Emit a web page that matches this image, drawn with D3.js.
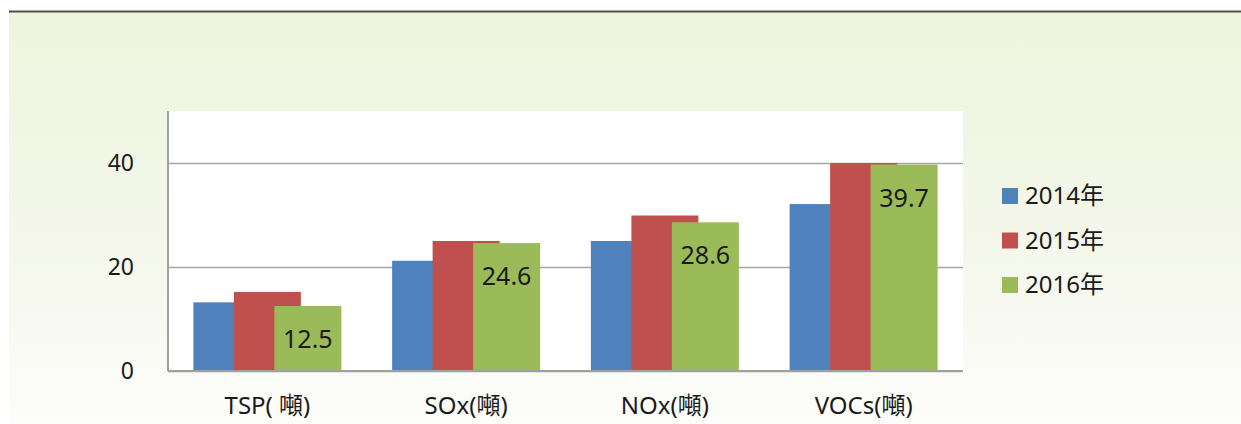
<html>
    <head>
        <meta charset="UTF-8">
        <title>Emissions chart</title>
        <script src="https://cdn.jsdelivr.net/npm/d3@7"></script>
        <style>
            body { margin: 0; background: #fff; }
            svg { display: block; }
            text { font-family: "Noto Sans", "Noto Sans CJK TC", sans-serif; fill: #1a1a1a; }
        </style>
    </head>
    <body>
        <div id="chart"></div>

        <script>
            // data
            var categories = ["TSP( 噸)", "SOx(噸)", "NOx(噸)", "VOCs(噸)"];
            var years = ["2014年", "2015年", "2016年"];
            var v2014 = [13.2, 21.2, 25.0, 32.1];
            var v2015 = [15.2, 25.0, 29.9, 40.0];
            var v2016 = [12.5, 24.6, 28.6, 39.7];
            var yTicks = [0, 20, 40];
            var colors = ["#4f81bd", "#c0504d", "#9bbb59"];

            var series = [v2014, v2015, v2016];

            var W = 1241, H = 424;
            var plot = {left: 168, right: 963, top: 111, bottom: 371};

            var svg = d3.select("#chart").append("svg")
                    .attr("width", W)
                    .attr("height", H);

            //-----------------------------------------
            // background panel
            var grad = svg.append("defs").append("linearGradient")
                    .attr("id", "bg")
                    .attr("x1", 0).attr("y1", 0).attr("x2", 0).attr("y2", 1);
            grad.append("stop").attr("offset", "0%").attr("stop-color", "#eef4dd");
            grad.append("stop").attr("offset", "55%").attr("stop-color", "#f4f7ea");
            grad.append("stop").attr("offset", "100%").attr("stop-color", "#fdfdfb");

            svg.append("rect")
                    .attr("x", 9).attr("y", 12)
                    .attr("width", W - 9).attr("height", H - 12)
                    .attr("fill", "url(#bg)");
            svg.append("line")
                    .attr("x1", 9).attr("x2", W)
                    .attr("y1", 11.5).attr("y2", 11.5)
                    .attr("stroke", "#4a5049")
                    .attr("stroke-width", 2);

            // plot area
            svg.append("rect")
                    .attr("x", plot.left).attr("y", plot.top)
                    .attr("width", plot.right - plot.left)
                    .attr("height", plot.bottom - plot.top)
                    .attr("fill", "#fff");

            //-----------------------------------------
            var x = d3.scaleBand().domain(categories).range([plot.left, plot.right]);
            var y = d3.scaleLinear().domain([0, 50]).range([plot.bottom, plot.top]);
            // bars overlap inside a group
            var barW = 67;
            var offset = d3.scaleLinear().domain([0, 2]).range([-74, 7]);

            // gridlines + tick labels
            var yAxis = svg.append("g")
                    .attr("transform", "translate(" + plot.left + ",0)")
                    .call(d3.axisLeft(y)
                            .tickValues(yTicks)
                            .tickSizeInner(-(plot.right - plot.left))
                            .tickSizeOuter(0)
                            .tickPadding(34));
            yAxis.select(".domain").remove();
            yAxis.selectAll("line").attr("stroke", "#a6a6a6").attr("stroke-width", 1.6);
            yAxis.selectAll("text")
                    .style("font-size", "23px")
                    .attr("fill", "#1a1a1a");

            // bars
            series.forEach(function (vals, s) {
                svg.append("g").selectAll("rect")
                        .data(vals)
                        .enter()
                        .append("rect")
                        .attr("x", function (d, i) {
                            return x(categories[i]) + x.bandwidth() / 2 + offset(s);
                        })
                        .attr("y", function (d) { return y(d); })
                        .attr("width", barW)
                        .attr("height", function (d) { return y(0) - y(d); })
                        .attr("fill", colors[s]);
            });

            // labels on the 2016 bars
            svg.append("g").selectAll("text")
                    .data(v2016)
                    .enter()
                    .append("text")
                    .attr("x", function (d, i) {
                        return x(categories[i]) + x.bandwidth() / 2 + offset(2) + barW / 2;
                    })
                    .attr("y", function (d) { return y(d) + 42; })
                    .attr("text-anchor", "middle")
                    .style("font-size", "25px")
                    .text(function (d) { return d.toFixed(1); });

            // axis lines
            svg.append("line")
                    .attr("x1", plot.left).attr("x2", plot.left)
                    .attr("y1", plot.top).attr("y2", plot.bottom)
                    .attr("stroke", "#a0a0a0").attr("stroke-width", 2);
            svg.append("line")
                    .attr("x1", plot.left).attr("x2", plot.right)
                    .attr("y1", plot.bottom).attr("y2", plot.bottom)
                    .attr("stroke", "#a0a0a0").attr("stroke-width", 2);

            // category labels
            var xAxis = svg.append("g")
                    .attr("transform", "translate(0," + plot.bottom + ")")
                    .call(d3.axisBottom(x).tickSize(0).tickPadding(26));
            xAxis.select(".domain").remove();
            xAxis.selectAll("text")
                    .style("font-size", "24px")
                    .attr("fill", "#1a1a1a");

            //-----------------------------------------
            // legend
            var ly = d3.scaleLinear().domain([0, 2]).range([196, 285]);
            var legend = svg.append("g").selectAll("g")
                    .data(years)
                    .enter()
                    .append("g")
                    .attr("transform", function (d, i) {
                        return "translate(1002," + ly(i) + ")";
                    });
            legend.append("rect")
                    .attr("x", 0).attr("y", -8)
                    .attr("width", 16).attr("height", 16)
                    .attr("fill", function (d, i) { return colors[i]; });
            legend.append("text")
                    .attr("x", 23).attr("y", 8)
                    .style("font-size", "24px")
                    .text(function (d) { return d; });
        </script>
    </body>
</html>
